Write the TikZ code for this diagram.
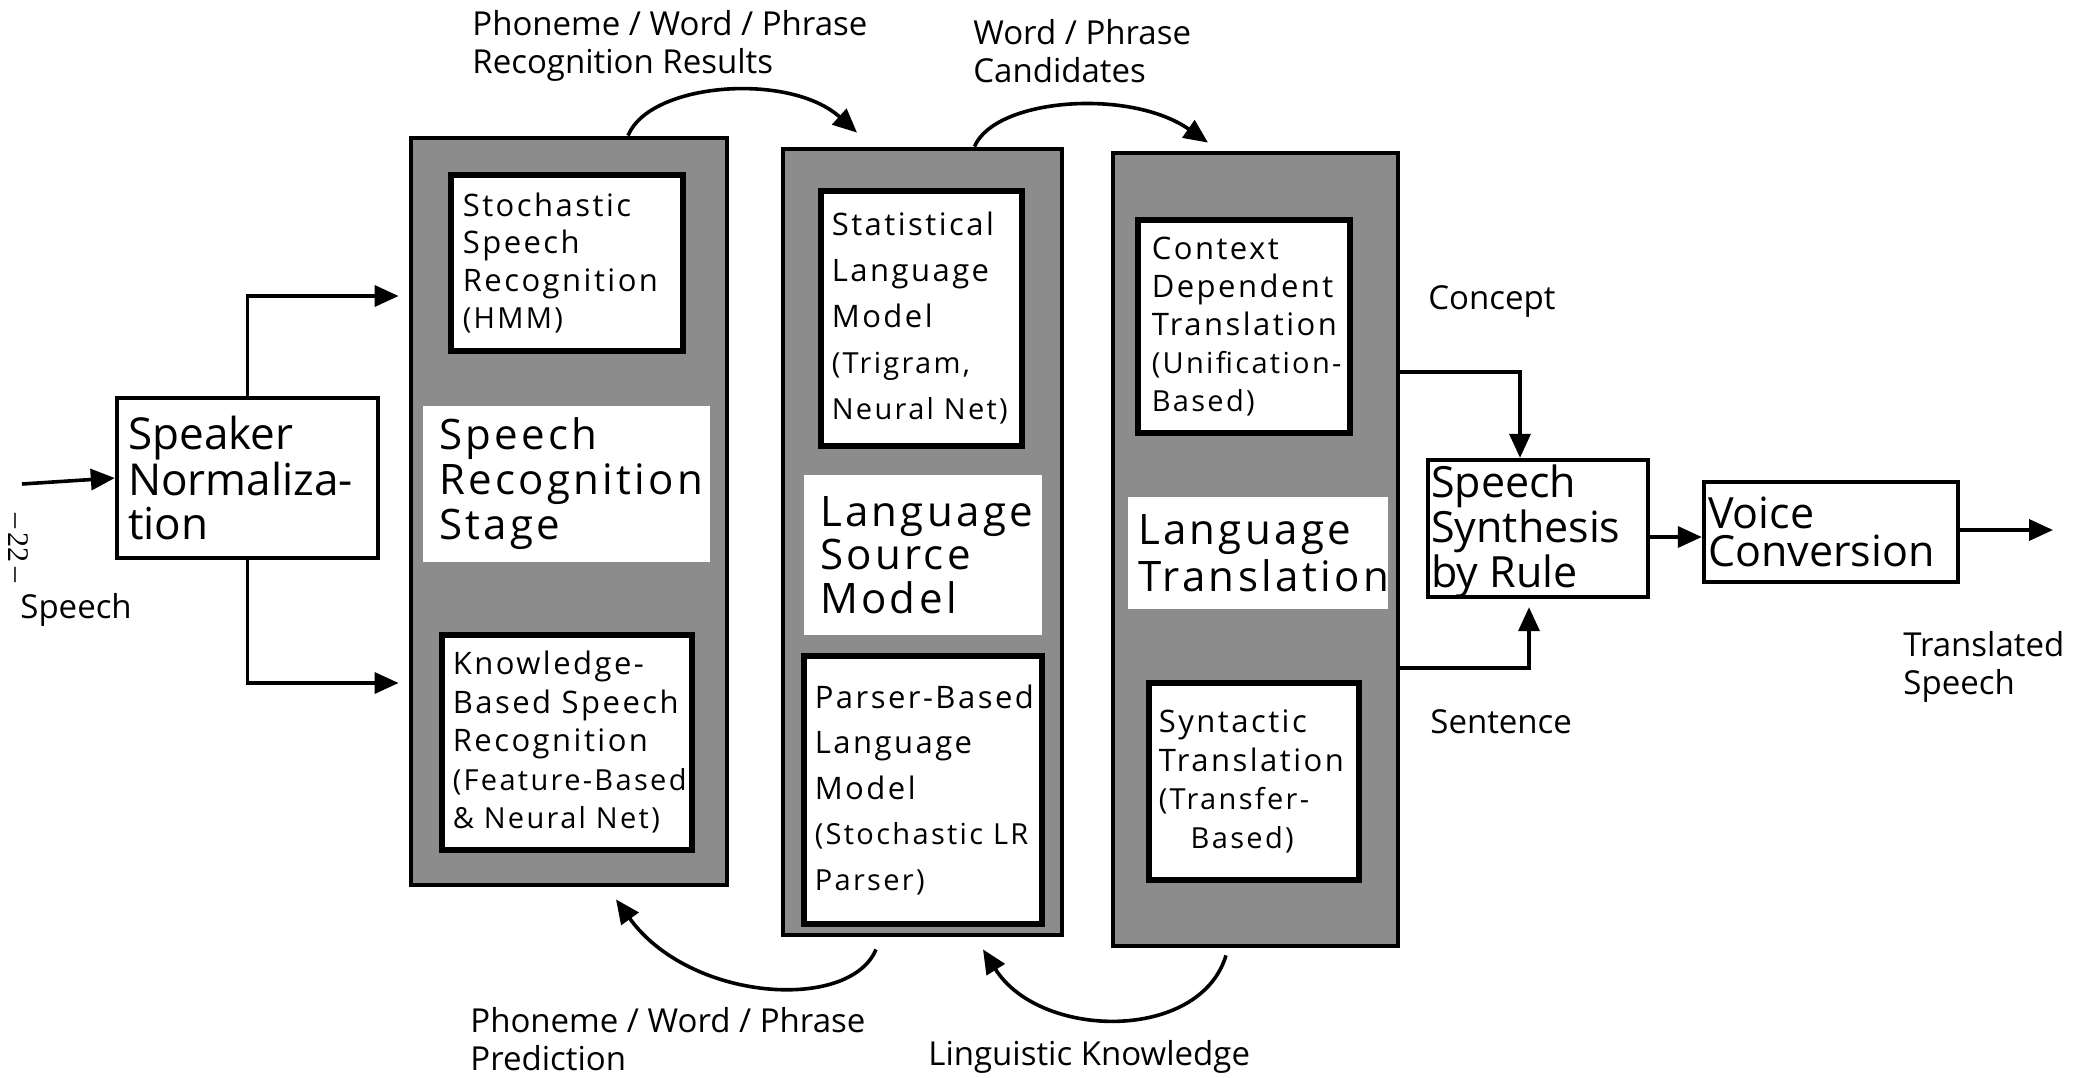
\documentclass[tikz,border=0pt]{standalone}
\usepackage{fontspec}
\setmainfont{Open Sans}
\newfontfamily\trackfont[LetterSpace=8]{Open Sans}
\newfontfamily\pagefont{Liberation Serif}
\usetikzlibrary{arrows.meta}

% one unit = one pixel of the 2100 x 1077 sheet, y growing downwards
\tikzset{
  stagebox/.style={draw=black, line width=2.4pt, fill=black!45, inner sep=0pt},
  innerbox/.style={draw=black, line width=2.6pt, fill=white, inner sep=0pt},
  plate/.style={fill=white, inner sep=0pt},
  unitbox/.style={draw=black, line width=2.2pt, fill=white, inner sep=0pt},
  boxtext/.style={anchor=west, align=left, inner sep=0pt, font=\trackfont\fontsize{15.5}{18.75}\selectfont},
  stagetext/.style={anchor=west, align=left, inner sep=0pt, font=\trackfont\fontsize{21}{22.5}\selectfont},
  unittext/.style={anchor=west, align=left, inner sep=0pt, font=\fontsize{21.5}{19}\selectfont},
  lbl/.style={anchor=west, align=left, inner sep=0pt, font=\fontsize{16.5}{19}\selectfont},
  wire/.style={line width=1.8pt},
  conn/.style={line width=1.8pt, -{Triangle[length=12pt,width=10.5pt]}},
}
\newcommand{\paren}[1]{{\fontsize{14.5}{18.75}\selectfont #1}}

\begin{document}
\begin{tikzpicture}[x=0.5pt,y=-0.5pt]
\fill[white] (0,0) rectangle (2100,1077);
\useasboundingbox (0,0) rectangle (2100,1077);

% ---------- speaker normalization ----------
\node[unitbox, minimum width=130.5pt, minimum height=80pt] (sn) at (247.5,478) {};
\node[unittext, font=\fontsize{22}{21.8}\selectfont] (snt) at ([xshift=6.5pt]sn.west) {Speaker\\Normaliza-\\tion};

% ---------- speech recognition stage ----------
\node[stagebox, minimum width=158pt, minimum height=373.5pt] (sr) at (569,511.5) {};
\node[innerbox, minimum width=116pt, minimum height=88pt] (srtop) at (567,263) {};
\node[plate, minimum width=143.5pt, minimum height=78pt] (srplate) at (566.5,484) {};
\node[innerbox, minimum width=125pt, minimum height=107.5pt] (srbot) at (567,742.5) {};
\node[boxtext] (srtopt) at ([xshift=7pt]srtop.west) {Stochastic\\Speech\\Recognition\\\paren{(HMM)}};
\node[stagetext] (srplatet) at ([xshift=8pt]srplate.west) {Speech\\Recognition\\Stage};
\node[boxtext, font=\trackfont\fontsize{15.5}{19.25}\selectfont] (srbott) at ([xshift=6.5pt]srbot.west) {Knowledge-\\Based Speech\\Recognition\\\paren{(Feature-Based}\\\paren{\& Neural Net)}};

% ---------- language source model ----------
\node[stagebox, minimum width=139.5pt, minimum height=393pt] (lsm) at (922.5,542) {};
\node[innerbox, minimum width=100.5pt, minimum height=127.5pt] (lsmtop) at (921.5,318.5) {};
\node[plate, minimum width=119pt, minimum height=80pt] (lsmplate) at (923,555) {};
\node[innerbox, minimum width=119pt, minimum height=134pt] (lsmbot) at (923,790) {};
\node[boxtext, font=\trackfont\fontsize{15.5}{23}\selectfont] (lsmtopt) at ([xshift=6.5pt]lsmtop.west) {Statistical\\Language\\Model\\\paren{(Trigram,}\\\paren{Neural Net)}};
\node[stagetext, font=\trackfont\fontsize{21}{21.75}\selectfont] (lsmplatet) at ([xshift=8pt]lsmplate.west) {Language\\Source\\Model};
\node[boxtext, font=\trackfont\fontsize{15.5}{22.75}\selectfont] (lsmbott) at ([xshift=6.5pt]lsmbot.west) {Parser-Based\\Language\\Model\\\paren{(Stochastic LR}\\\paren{Parser)}};

% ---------- language translation ----------
\node[stagebox, minimum width=142.5pt, minimum height=396.5pt] (lt) at (1255.5,549.5) {};
\node[innerbox, minimum width=106pt, minimum height=106.5pt] (lttop) at (1244,326.5) {};
\node[plate, minimum width=130pt, minimum height=56pt] (ltplate) at (1258,553) {};
\node[innerbox, minimum width=105pt, minimum height=98.5pt] (ltbot) at (1254,781.5) {};
\node[boxtext, font=\trackfont\fontsize{15.5}{19}\selectfont] (lttopt) at ([xshift=8pt]lttop.west) {Context\\Dependent\\Translation\\\paren{(Unification-}\\\paren{Based)}};
\node[stagetext, font=\trackfont\fontsize{21}{23.5}\selectfont] (ltplatet) at ([xshift=5pt]ltplate.west) {Language\\Translation};
\node[boxtext, font=\trackfont\fontsize{15.5}{19.25}\selectfont] (ltbott) at ([xshift=6pt]ltbot.west) {Syntactic\\Translation\\\paren{(Transfer-}\\\paren{\hspace*{1.1em}Based)}};

% ---------- synthesis and conversion ----------
\node[unitbox, minimum width=110pt, minimum height=68.5pt] (ss) at (1538,528.5) {};
\node[unittext] (sst) at ([shift={(5,3)}]ss.west) {Speech\\Synthesis\\by Rule};
\node[unitbox, minimum width=127pt, minimum height=50pt] (vc) at (1831,532) {};
\node[unittext] (vct) at ([xshift=3pt]vc.west) {Voice\\Conversion};

% ---------- free ends ----------
\coordinate (speechin) at (22,484);
\coordinate (speechout) at (2053,530);

% ---------- connectors ----------
\draw[conn] (speechin) -- (sn.west);
\draw[conn, shorten >=5pt] (sn.north) |- (sr.west |- 0,296);
\draw[conn, shorten >=5pt] (sn.south) |- (sr.west |- 0,683);

\draw[conn] ([xshift=29.5pt]sr.north) .. controls (650,82) and (790,72) .. ([shift={(-65.5,-14)}]lsm.north);
\draw[conn] ([xshift=26pt]lsm.north) .. controls (995,98) and (1130,88) .. ([shift={(-47.5,-8)}]lt.north);

\draw[conn] ([shift={(-46.5,12)}]lsm.south) .. controls (850,1012) and (690,1002) .. ([shift={(47,12)}]sr.south);
\draw[conn] ([shift={(-29.5,7)}]lt.south) .. controls (1200,1042) and (1040,1040) .. ([shift={(60.5,12)}]lsm.south);

\draw[conn] (lt.east |- 0,372) -| ([xshift=-9pt]ss.north);
\draw[conn] (lt.east |- 0,668) -| ([shift={(-9,8)}]ss.south);

\draw[conn] (ss.east |- 0,537) -- (vc.west |- 0,537);
\draw[conn] (vc.east |- 0,530) -- (speechout);

% ---------- labels ----------
\node[lbl] (lrec) at (472,46) {Phoneme / Word / Phrase\\Recognition Results};
\node[lbl] (lcand) at (973,51) {Word / Phrase\\Candidates};
\node[lbl] (lpred) at (470,1039) {Phoneme / Word / Phrase\\Prediction};
\node[lbl] (lling) at (928,1057) {Linguistic Knowledge};
\node[lbl] (lconc) at (1428,302) {Concept};
\node[lbl] (lsent) at (1430,722) {Sentence};
\node[lbl] (ltrans) at (1903,667) {Translated\\Speech};
\node[lbl] (lspeech) at (20,610) {Speech};
\node[rotate=-90, inner sep=0pt, font=\pagefont\fontsize{15}{15}\selectfont] (page) at (18,548) {\textendash\,22\,\textendash};
\end{tikzpicture}
\end{document}
